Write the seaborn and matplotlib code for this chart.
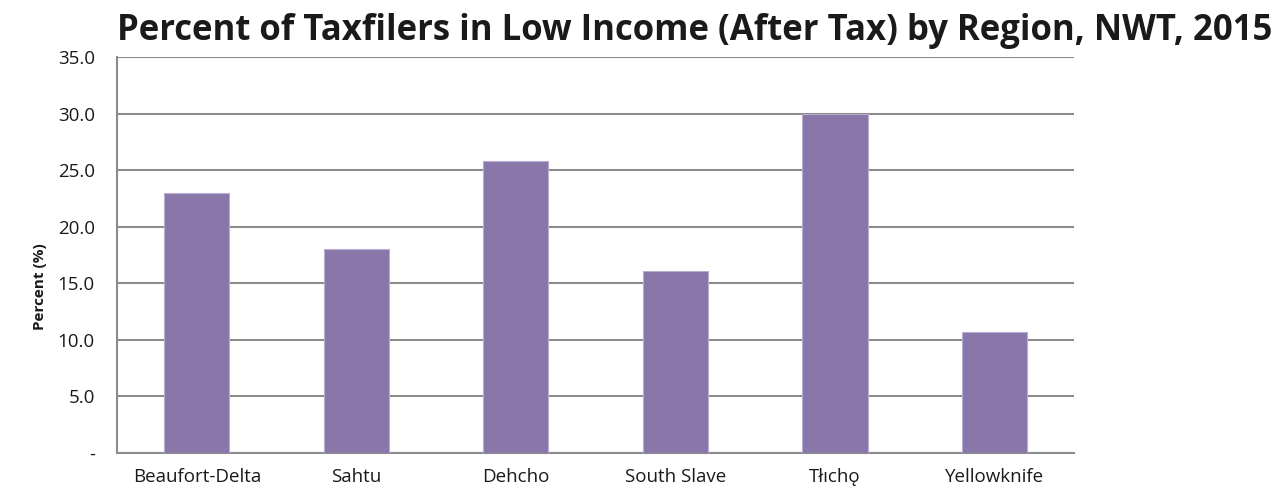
import matplotlib
matplotlib.use("Agg")
import matplotlib.pyplot as plt
import seaborn as sns
import pandas as pd
import numpy as np
from matplotlib.ticker import FixedLocator, FuncFormatter

regions = ["Beaufort-Delta", "Sahtu", "Dehcho", "South Slave", "Tłıchǫ", "Yellowknife"]
percent_low_income = [23.0, 18.0, 25.8, 16.1, 30.0, 10.7]
y_ticks = [0, 5, 10, 15, 20, 25, 30, 35]

sns.set_style("white")
plt.rcParams["font.family"] = ["Open Sans", "DejaVu Sans"]

df = pd.DataFrame({"Region": regions, "Percent": percent_low_income})

fig = plt.figure(figsize=(12.82, 4.92), dpi=100)
ax = fig.add_axes([0.0913, 0.0793, 0.7465, 0.8047])

sns.barplot(data=df, x="Region", y="Percent", color="#8a77aa", saturation=1,
            width=0.41, edgecolor="#b9acd0", linewidth=0.8, ax=ax, zorder=3)

ax.set_ylim(0, 35)
ax.set_xlim(-0.5, len(regions) - 0.5)
ax.yaxis.set_major_locator(FixedLocator(y_ticks))
ax.yaxis.set_major_formatter(FuncFormatter(lambda v, p: "-" if v == 0 else f"{v:.1f}"))
ax.grid(axis="y", color="#8c8c8c", linewidth=1.5, zorder=0)
ax.set_axisbelow(True)

# category boundary ticks on the x axis
ax.set_xticks(np.arange(len(regions)))
ax.set_xticks(np.arange(-0.5, len(regions)), minor=True)
ax.tick_params(axis="x", which="major", length=0, pad=11, labelsize=13.5, labelcolor="#1a1a1a")
ax.tick_params(axis="x", which="minor", length=6, width=1.5, color="#8c8c8c", direction="out")
ax.tick_params(axis="y", length=6, width=1.5, color="#8c8c8c", direction="out", pad=10,
               labelsize=13.5, labelcolor="#1a1a1a")

for side in ["top", "right"]:
    ax.spines[side].set_visible(False)
for side in ["left", "bottom"]:
    ax.spines[side].set_color("#8c8c8c")
    ax.spines[side].set_linewidth(1.5)

ax.set_xlabel("")
ax.set_ylabel("Percent (%)", fontsize=11, fontweight="bold", color="#1a1a1a")
ax.yaxis.set_label_coords(-0.073, 0.42)

fig.text(0.542, 0.938, "Percent of Taxfilers in Low Income (After Tax) by Region, NWT, 2015",
         ha="center", va="center", fontsize=25, fontweight="bold", color="#1a1a1a")

fig.savefig("out.png", dpi=100)
